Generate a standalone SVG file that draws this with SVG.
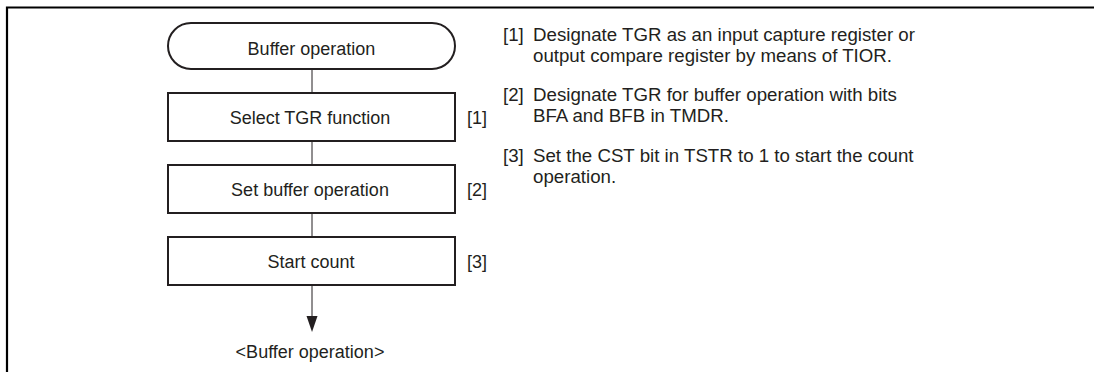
<svg xmlns="http://www.w3.org/2000/svg" width="1094" height="372" viewBox="0 0 1094 372">
<style>
.t{font-family:"Liberation Sans",Arial,sans-serif;font-size:18px;fill:#231f20}
.n{font-size:18.7px}
.c{text-anchor:middle}
.box{fill:#fff;stroke:#231f20;stroke-width:2}
.ln{stroke:#231f20;stroke-width:1;fill:none}
</style>
<rect width="1094" height="372" fill="#fff"/>
<g id="frame"><path d="M7,372 V7.5 H1094" fill="none" stroke="#000" stroke-width="2.2"/></g>
<g id="connectors">
<line class="ln" x1="312" y1="69" x2="312" y2="93"/>
<line class="ln" x1="312" y1="141" x2="312" y2="165"/>
<line class="ln" x1="312" y1="213" x2="312" y2="237"/>
<line class="ln" x1="312" y1="285" x2="312" y2="318"/>
<polygon points="306.5,316 317.5,316 312,332" fill="#231f20"/>
</g>
<g id="start"><rect class="box" x="168" y="23" width="287" height="46" rx="23" ry="23"/><text class="t c" x="311.5" y="55">Buffer operation</text></g>
<g id="step1"><rect class="box" x="168" y="93" width="287" height="48"/><text class="t c" x="310" y="123.5">Select TGR function</text><text class="t" x="467" y="124">[1]</text></g>
<g id="step2"><rect class="box" x="168" y="165" width="287" height="48"/><text class="t c" x="310" y="195.5">Set buffer operation</text><text class="t" x="467" y="196">[2]</text></g>
<g id="step3"><rect class="box" x="168" y="237" width="287" height="48"/><text class="t c" x="311" y="267.5">Start count</text><text class="t" x="467" y="268">[3]</text></g>
<g id="end"><text class="t c" x="310" y="358">&lt;Buffer operation&gt;</text></g>
<g id="notes">
<text class="t n" x="503" y="41">[1]</text><text class="t n" x="533" y="41">Designate TGR as an input capture register or</text>
<text class="t n" x="533" y="62">output compare register by means of TIOR.</text>
<text class="t n" x="503" y="101">[2]</text><text class="t n" x="533" y="101">Designate TGR for buffer operation with bits</text>
<text class="t n" x="533" y="122">BFA and BFB in TMDR.</text>
<text class="t n" x="503" y="162">[3]</text><text class="t n" x="533" y="162">Set the CST bit in TSTR to 1 to start the count</text>
<text class="t n" x="533" y="183">operation.</text>
</g>
</svg>
